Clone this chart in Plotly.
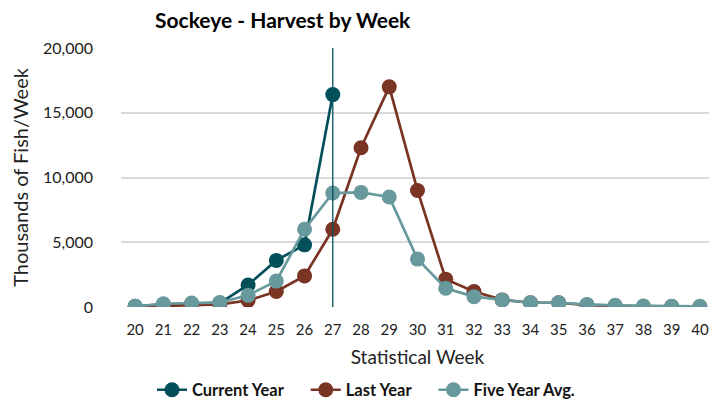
import plotly.graph_objects as go

weeks = list(range(20, 41))
current_year = [50, 200, 250, 300, 1700, 3600, 4800, 16400]
last_year = [0, 100, 150, 200, 500, 1200, 2400, 6000, 12300, 17000, 9000,
             2150, 1200, 550, 330, 330, 150, 80, 50, 30, 20]
five_year_avg = [50, 250, 300, 350, 900, 2000, 6000, 8800, 8850, 8500, 3700,
                 1450, 800, 540, 330, 330, 200, 130, 80, 60, 50]
current_week = 27

FONT = "Lato"
C_CUR = "#03505b"
C_LAST = "#7a3424"
C_AVG = "#67999d"

W, H = 706, 398  # page body has an 8px margin

fig = go.Figure()
fig.add_trace(go.Scatter(x=weeks[:len(current_year)], y=current_year, name="<b>Current Year</b>    ",
                         mode="lines+markers",
                         line=dict(color=C_CUR, width=2.7), marker=dict(size=15, color=C_CUR)))
fig.add_trace(go.Scatter(x=weeks, y=last_year, name="<b>Last Year</b>    ", mode="lines+markers",
                         line=dict(color=C_LAST, width=2.7), marker=dict(size=15, color=C_LAST)))
fig.add_trace(go.Scatter(x=weeks, y=five_year_avg, name="<b>Five Year Avg.</b>", mode="lines+markers",
                         line=dict(color=C_AVG, width=2.7), marker=dict(size=15, color=C_AVG)))

fig.add_shape(type="line", x0=current_week, x1=current_week, xref="x", yref="paper",
              y0=0, y1=1, line=dict(color=C_CUR, width=1.3))

fig.update_layout(
    width=W, height=H,
    margin=dict(l=113, r=0, t=40, b=99),
    paper_bgcolor="white", plot_bgcolor="white",
    font=dict(family=FONT, size=15, color="#111111"),
    title=dict(text="<b>Sockeye - Harvest by Week</b>", font=dict(family=FONT, size=21, color="black"),
               x=147 / W, xanchor="left", y=1 - 13 / H, yanchor="middle", xref="container", yref="container"),
    xaxis=dict(range=[19.5, 40.5], tickmode="array", tickvals=weeks, ticktext=[str(w) for w in weeks],
               showgrid=False, zeroline=False, showline=False, ticks="", ticklabelstandoff=12,
               automargin=False,
               title=dict(text="Statistical Week", font=dict(size=19, color="#222222"), standoff=13),
               tickfont=dict(size=15, color="#222222")),
    yaxis=dict(range=[0, 20000], tickvals=[0, 5000, 10000, 15000, 20000], tickformat=",",
               showgrid=True, gridcolor="#d9d9d9", gridwidth=1.5, zeroline=False, showline=False,
               automargin=False,
               ticklabelstandoff=27, tickfont=dict(size=16, color="#222222"),
               title=dict(text="Thousands of Fish/Week", font=dict(size=20, color="#222222"), standoff=10)),
    legend=dict(orientation="h", x=358 / W, xanchor="center", y=16 / H, yanchor="middle",
                xref="container", yref="container", traceorder="normal",
                font=dict(size=16.5, color="#111111", family=FONT)),
    showlegend=True,
)

fig.write_html("out.html")
